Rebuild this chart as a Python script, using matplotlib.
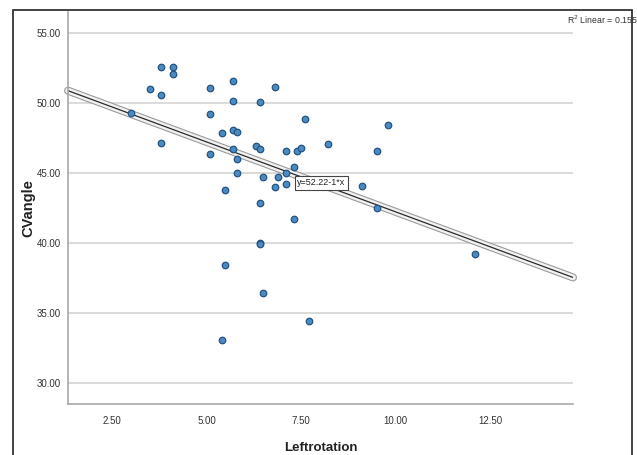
import matplotlib
matplotlib.use("Agg")
import matplotlib.pyplot as plt
from matplotlib.patches import Rectangle
from matplotlib.ticker import FixedLocator, FormatStrFormatter
import numpy as np

plt.rcParams['font.family'] = ['Liberation Sans', 'DejaVu Sans']

# ---- data ----
left_rotation = [3.0, 3.5, 3.8, 4.1, 4.1, 3.8, 3.8, 5.1, 5.1, 5.7, 5.7, 5.4, 5.7, 5.8,
                 5.7, 5.1, 5.8, 5.8, 5.5, 6.8, 6.4, 7.6, 6.3, 6.4, 7.1, 7.4, 7.5, 8.2,
                 7.3, 7.1, 6.5, 6.9, 6.8, 7.1, 9.1, 6.4, 7.3, 6.4, 6.4, 5.5, 6.5, 5.4,
                 9.8, 9.5, 9.5, 12.1, 7.7]
cv_angle = [49.3, 51.0, 52.55, 52.55, 52.05, 50.55, 47.15, 51.05, 49.25, 51.55, 50.15,
            47.85, 48.05, 47.9, 46.7, 46.35, 46.0, 45.0, 43.8, 51.15, 50.05, 48.85,
            46.95, 46.75, 46.6, 46.6, 46.8, 47.05, 45.45, 45.0, 44.75, 44.75, 44.0,
            44.2, 44.1, 42.85, 41.7, 40.0, 39.9, 38.45, 36.4, 33.1, 48.45, 46.6,
            42.5, 39.25, 34.45]
fit_intercept = 52.22
fit_slope = -1.0
r2_value = 0.155
x_ticks = [2.5, 5.0, 7.5, 10.0, 12.5]
y_ticks = [30, 35, 40, 45, 50, 55]
x_limits = [1.34, 14.68]
y_limits = [28.5, 56.5]

fig = plt.figure(figsize=(6.37, 4.55), dpi=100)
ax = fig.add_axes([0.1068, 0.1121, 0.7927, 0.8615])

ax.set_xlim(*x_limits)
ax.set_ylim(*y_limits)

# grid
ax.yaxis.set_major_locator(FixedLocator(y_ticks))
ax.xaxis.set_major_locator(FixedLocator(x_ticks))
ax.yaxis.set_major_formatter(FormatStrFormatter('%.2f'))
ax.xaxis.set_major_formatter(FormatStrFormatter('%.2f'))
ax.grid(axis='y', color='#d4d4d4', linewidth=1.2, zorder=0)
ax.set_axisbelow(True)

for s in ['top', 'right']:
    ax.spines[s].set_visible(False)
for s in ['left', 'bottom']:
    ax.spines[s].set_color('#a8a8a8')
    ax.spines[s].set_linewidth(1.2)

ax.tick_params(axis='both', length=0, labelsize=7, colors='#333333')
ax.tick_params(axis='y', pad=5)
ax.tick_params(axis='x', pad=9)

# regression line (tube look)
xl = np.array(x_limits)
yl = fit_intercept + fit_slope * xl
ax.plot(xl, yl, color='#9a9a9a', lw=5.8, solid_capstyle='round', zorder=2, clip_on=False)
ax.plot(xl, yl, color='#f2f2f2', lw=4.2, solid_capstyle='round', zorder=2.1, clip_on=False)
ax.plot(xl, yl, color='#2a2a2a', lw=0.9, solid_capstyle='butt', zorder=2.2, clip_on=False)

# points
ax.scatter(left_rotation, cv_angle, s=22, facecolor='#4c8bc2', edgecolor='#235380',
           linewidth=0.9, zorder=3)

# equation box
ax.text(7.40, 44.29, 'y=52.22-1*x', fontsize=6.5, color='#222222', ha='left', va='center',
        zorder=5, bbox=dict(boxstyle='square,pad=0.25', facecolor='white',
                            edgecolor='#444444', linewidth=0.8))

# axis labels
ax.set_xlabel('Leftrotation', fontsize=9.5, fontweight='bold', color='#222222')
ax.xaxis.set_label_coords(0.5, -0.112)
ax.xaxis.label.set_va('center')
ax.set_ylabel('CVangle', fontsize=10.5, fontweight='bold', color='#222222')
ax.yaxis.set_label_coords(-0.079, 0.5)
ax.yaxis.label.set_va('center')

# R2 annotation
fig.text(567 / 637, 1 - 20 / 455, 'R$^2$ Linear = %.3f' % r2_value, fontsize=6.3,
         color='#333333', ha='left', va='center')

# outer frame
frame = Rectangle((13 / 637, -0.05), (632 - 13) / 637, 1.05 - 10 / 455,
                  transform=fig.transFigure, fill=False, edgecolor='#333333',
                  linewidth=1.3, clip_on=False)
fig.add_artist(frame)

fig.savefig('out.png', dpi=100)
